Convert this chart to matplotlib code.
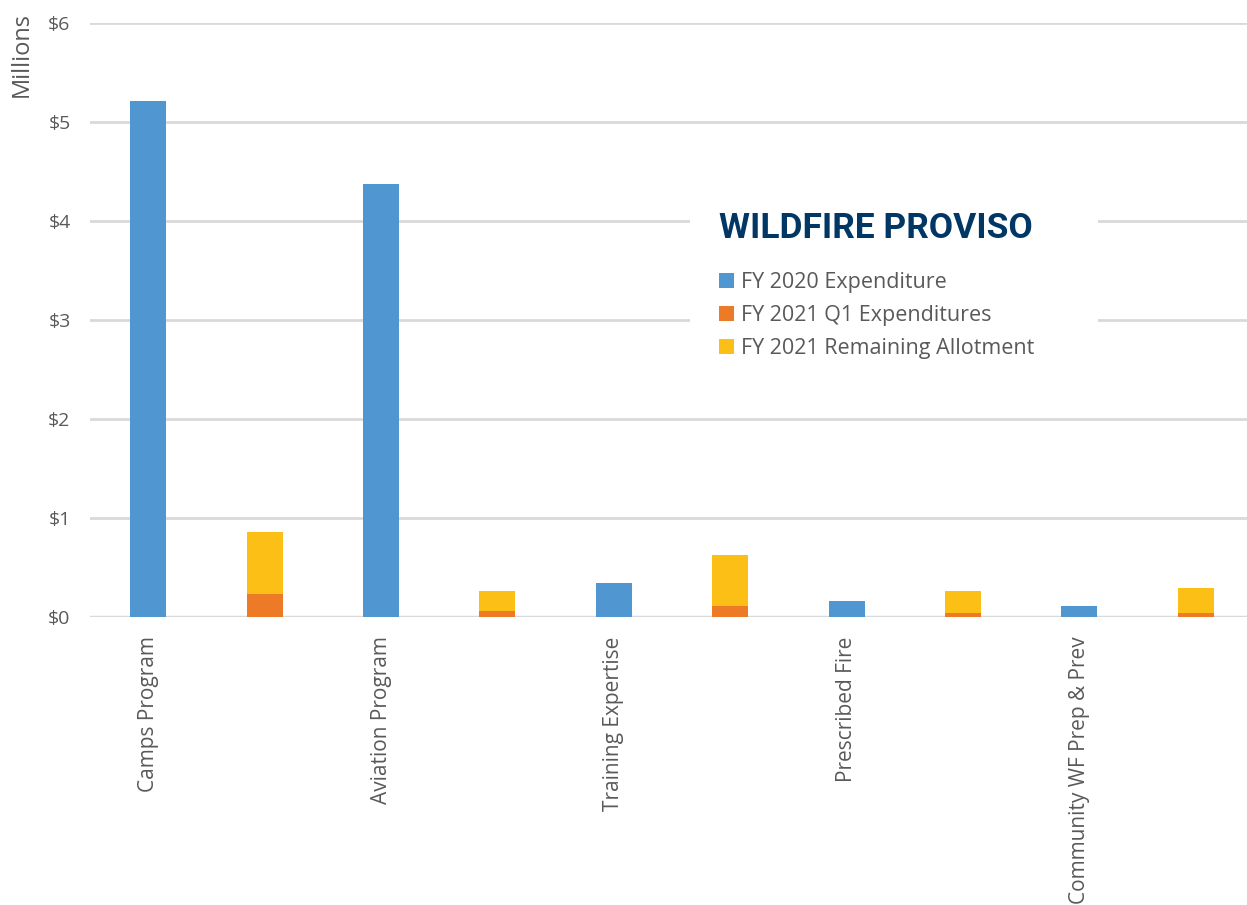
import matplotlib
matplotlib.use("Agg")
import matplotlib.pyplot as plt
from matplotlib.patches import Patch, Rectangle
import numpy as np

# chart values ($ millions), one slot per column in the original sheet
categories = ["Camps Program", "", "Aviation Program", "", "Training Expertise", "",
              "Prescribed Fire", "", "Community WF Prep & Prev", ""]
fy2020_exp = [5.21, 0, 4.37, 0, 0.34, 0, 0.165, 0, 0.11, 0]
fy2021_q1 = [0, 0.235, 0, 0.065, 0, 0.115, 0, 0.037, 0, 0.037]
fy2021_remaining = [0, 0.62, 0, 0.20, 0, 0.51, 0, 0.23, 0, 0.26]
series_names = ["FY 2020 Expenditure", "FY 2021 Q1 Expenditures", "FY 2021 Remaining Allotment"]
yticks = [0, 1, 2, 3, 4, 5, 6]

blue = '#5097D2'
orange = '#EC7A27'
yellow = '#FBBF16'
grid_color = '#D9D9D9'
text_grey = '#595959'
navy = '#003764'

plt.rcParams['font.family'] = ['Open Sans', 'DejaVu Sans']

fig = plt.figure(figsize=(12.47, 9.05), dpi=100, facecolor='white')
W, H = 1247, 905
ax = fig.add_axes([90 / W, 1 - 617 / H, (1254 - 90) / W, (617 - 23) / H])

x = np.arange(len(categories))
w = 0.31
ax.bar(x, fy2020_exp, w, color=blue, linewidth=0, zorder=3)
ax.bar(x, fy2021_q1, w, color=orange, linewidth=0, zorder=3)
ax.bar(x, fy2021_remaining, w, bottom=fy2021_q1, color=yellow, linewidth=0, zorder=3)

ax.set_xlim(-0.5, 9.5)
ax.set_ylim(0, 6)
ax.set_yticks(yticks)
ax.set_yticklabels([f"${v}" for v in yticks])
ax.set_xticks(x)
ax.set_xticklabels(categories, rotation=90, va='top', ha='center')

ax.grid(axis='y', color=grid_color, linewidth=2, zorder=0)
for s in ['top', 'right', 'left', 'bottom']:
    ax.spines[s].set_visible(False)
ax.axhline(0, color=grid_color, linewidth=2.5, zorder=2)
ax.tick_params(axis='y', length=0, labelsize=14, labelcolor=text_grey, pad=14)
ax.tick_params(axis='x', length=0, labelsize=15, labelcolor=text_grey, pad=14)

fig.text(22 / W, 1 - 12 / H, "Millions", rotation=90, ha='center', va='top',
         fontsize=17, color=text_grey)

# white block behind the legend, interrupting the gridlines
ax.add_patch(Rectangle((690 / W, 1 - 372 / H), (1098 - 690) / W, (372 - 185) / H,
                       transform=fig.transFigure, facecolor='white', edgecolor='none',
                       zorder=4, clip_on=False))

fig.text(719 / W, 1 - 229 / H, "WILDFIRE PROVISO", ha='left', va='center',
         family='Roboto', weight='bold', fontsize=25.5, color=navy, zorder=6)

handles = [Patch(facecolor=c, edgecolor='none') for c in (blue, orange, yellow)]
leg = ax.legend(handles, series_names, loc='upper left',
                bbox_to_anchor=(702 / W, 1 - 255 / H), bbox_transform=fig.transFigure,
                frameon=False, fontsize=15.5, handlelength=0.7, handleheight=0.7,
                handletextpad=0.3, labelspacing=0.55, borderpad=0.3)
leg.set_zorder(6)
for t in leg.get_texts():
    t.set_color(text_grey)

fig.savefig("out.png", dpi=100, facecolor='white')
